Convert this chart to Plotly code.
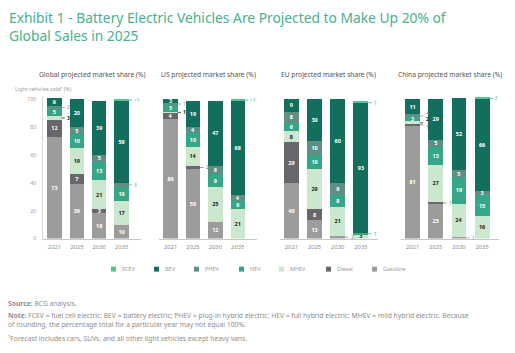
import plotly.graph_objects as go

W, H = 515, 353
FONT = "Noto Sans"

# ---------------- data ----------------
years = ["2021", "2025", "2030", "2035"]
stack_types = ["Gasoline", "Diesel", "MHEV", "HEV", "PHEV", "BEV", "FCEV"]
legend_types = ["FCEV", "BEV", "PHEV", "HEV", "MHEV", "Diesel", "Gasoline"]
region_titles = ["Global projected market share (%)", "US projected market share (%)",
                 "EU projected market share (%)", "China projected market share (%)"]

global_gasoline = [73, 39, 18, 10]
global_diesel = [12, 7, 3, 0]
global_mhev = [3, 19, 21, 17]
global_hev = [5, 10, 13, 10]
global_phev = [2, 5, 5, 3]
global_bev = [6, 20, 39, 59]
global_fcev = [0, 0, 0, 0.5]

us_gasoline = [86, 50, 12, 0]
us_diesel = [4, 2, 0, 0]
us_mhev = [1, 14, 25, 21]
us_hev = [5, 10, 9, 6]
us_phev = [1, 4, 6, 4]
us_bev = [3, 19, 47, 68]
us_fcev = [0, 0, 0, 0.5]

eu_gasoline = [40, 13, 2, 0]
eu_diesel = [29, 8, 0, 0]
eu_mhev = [8, 29, 21, 3]
eu_hev = [6, 10, 8, 1]
eu_phev = [8, 10, 9, 0]
eu_bev = [9, 30, 60, 93]
eu_fcev = [0, 0, 0, 1]

china_gasoline = [81, 25, 1, 0]
china_diesel = [1, 1, 0, 0]
china_mhev = [2, 27, 24, 16]
china_hev = [3, 13, 19, 15]
china_phev = [2, 5, 5, 3]
china_bev = [11, 29, 52, 66]
china_fcev = [0, 0, 0, 1]

# labels drawn outside the bars with a leader line: (region, year, type, text)
outside_labels = [
    (0, "2021", "PHEV", "2"), (0, "2021", "MHEV", "3"),
    (0, "2035", "PHEV", "3"), (0, "2035", "FCEV", "<1"),
    (1, "2021", "PHEV", "1"), (1, "2021", "MHEV", "1"),
    (1, "2025", "Diesel", "2"), (1, "2035", "FCEV", "<1"),
    (2, "2030", "Gasoline", "2"), (2, "2035", "HEV", "1"), (2, "2035", "FCEV", "1"),
    (3, "2021", "PHEV", "2"), (3, "2021", "MHEV", "2"), (3, "2021", "Diesel", "1"),
    (3, "2025", "Diesel", "1"), (3, "2030", "Gasoline", "1"), (3, "2035", "FCEV", "1"),
]

regions = [
    dict(zip(stack_types, [global_gasoline, global_diesel, global_mhev, global_hev, global_phev, global_bev, global_fcev])),
    dict(zip(stack_types, [us_gasoline, us_diesel, us_mhev, us_hev, us_phev, us_bev, us_fcev])),
    dict(zip(stack_types, [eu_gasoline, eu_diesel, eu_mhev, eu_hev, eu_phev, eu_bev, eu_fcev])),
    dict(zip(stack_types, [china_gasoline, china_diesel, china_mhev, china_hev, china_phev, china_bev, china_fcev])),
]

# ---------------- styles ----------------
colors = {
    "FCEV": "#55c48e", "BEV": "#136f5d", "PHEV": "#5f8f82", "HEV": "#35a687",
    "MHEV": "#cbe8cf", "Diesel": "#68686c", "Gasoline": "#9c9c9c",
}
text_colors = {t: "#ffffff" for t in stack_types}
text_colors["MHEV"] = "#222222"
out_colors = {"FCEV": "#3fb186", "HEV": "#3fb186", "PHEV": "#7f9a92", "MHEV": "#222222",
              "Diesel": "#777777", "Gasoline": "#8a8a8a", "BEV": "#136f5d"}
# label offsets in pixels (text only, lines stay at the segment)
label_dy = {(3, "2021", "PHEV"): 3.5, (3, "2021", "MHEV"): 3.4, (3, "2021", "Diesel"): -1.6}

# panel pixel domains
panel_px = [(43.25, 141.25), (159.4, 257.4), (279.8, 377.8), (401.0, 499.0)]
y_bottom_px, y_top_px = 241.0, 96.7   # 0 and 102
YMAX = 102
BARGAP = 0.36
halfw = (1 - BARGAP) / 2

def px_x(p):
    return p / W

def px_y(p):
    return 1 - p / H

fig = go.Figure()
layout_axes = {}
annotations = []
shapes = []

for k, reg in enumerate(regions):
    xa = "x" if k == 0 else f"x{k+1}"
    ya = "y" if k == 0 else f"y{k+1}"
    outs = {(o[1], o[2]) for o in outside_labels if o[0] == k}
    for t in stack_types:
        vals = reg[t]
        texts = []
        for yr, v in zip(years, vals):
            if v >= 3 and (yr, t) not in outs:
                texts.append(f"<b>{v}</b>")
            else:
                texts.append("")
        fig.add_trace(go.Bar(
            x=years, y=vals, name=t, marker=dict(color=colors[t], line=dict(width=0)),
            text=texts, texttemplate="%{text}", textposition="inside",
            insidetextanchor="middle", textangle=0,
            textfont=dict(color=text_colors[t], size=5.5, family=FONT),
            xaxis=xa, yaxis=ya, showlegend=False, hoverinfo="skip",
        ))
    l, r = panel_px[k]
    layout_axes["xaxis" if k == 0 else f"xaxis{k+1}"] = dict(
        domain=[px_x(l), px_x(r)], anchor=ya, type="category",
        categoryorder="array", categoryarray=years,
        showline=True, linecolor="#c9c9c9", linewidth=1, ticks="",
        tickfont=dict(size=5.8, color="#8c8c8c", family=FONT),
        showgrid=False, zeroline=False, fixedrange=True, ticklabelstandoff=2,
    )
    ydict = dict(
        domain=[px_y(y_bottom_px), px_y(y_top_px)], anchor=xa, range=[0, YMAX],
        showgrid=False, zeroline=False, fixedrange=True,
    )
    if k == 0:
        ydict.update(showline=True, linecolor="#d6d6d6", linewidth=1, ticks="",
                     tickvals=[0, 20, 40, 60, 80, 100], showticklabels=True,
                     tickfont=dict(size=5.2, color="#9a9a9a", family=FONT), ticklabelstandoff=5)
    else:
        ydict.update(showline=False, showticklabels=False)
    layout_axes["yaxis" if k == 0 else f"yaxis{k+1}"] = ydict

    annotations.append(dict(
        text=region_titles[k], x=px_x((l + r) / 2), y=px_y(75), xref="paper", yref="paper",
        showarrow=False, xanchor="center", yanchor="middle",
        font=dict(size=6.7, color="#555555", family=FONT)))

# outside labels with leader lines
for (k, yr, t, txt) in outside_labels:
    reg = regions[k]
    i = years.index(yr)
    bottom = sum(reg[s][i] for s in stack_types[:stack_types.index(t)])
    v = reg[t][i]
    mid = bottom + v / 2
    xa = "x" if k == 0 else f"x{k+1}"
    ya = "y" if k == 0 else f"y{k+1}"
    x0 = i + halfw
    shapes.append(dict(type="line", xref=xa, yref=ya, x0=x0, x1=x0 + 3.5 / 24.5,
                       y0=mid, y1=mid, line=dict(color=out_colors[t], width=0.8)))
    annotations.append(dict(
        text=(f"<b>{txt}</b>" if t == "MHEV" else txt), x=x0, y=mid, xref=xa, yref=ya,
        showarrow=False, xanchor="left", yanchor="middle", xshift=4.5,
        yshift=label_dy.get((k, yr, t), 0), borderpad=0,
        font=dict(size=5.0, color=out_colors[t], family=FONT)))

# title
annotations.append(dict(
    text="Exhibit 1 - Battery Electric Vehicles Are Projected to Make Up 20% of<br>Global Sales in 2025",
    x=px_x(7), y=px_y(5), xref="paper", yref="paper", xanchor="left", yanchor="top",
    align="left", showarrow=False, font=dict(size=13.8, color="#47b18f", family=FONT)))

annotations.append(dict(
    text="Light vehicles sold¹ (%)", x=px_x(13), y=px_y(89), xref="paper", yref="paper",
    xanchor="left", yanchor="middle", showarrow=False,
    font=dict(size=5.3, color="#9a9a9a", family=FONT)))

# legend (custom)
legend_x = [111, 154, 194, 239, 279, 326, 372]
for t, lx in zip(legend_types, legend_x):
    shapes.append(dict(type="rect", xref="paper", yref="paper",
                       x0=px_x(lx), x1=px_x(lx + 5), y0=px_y(274.5), y1=px_y(269.5),
                       fillcolor=colors[t], line=dict(width=0)))
    annotations.append(dict(text=t, x=px_x(lx + 8.5), y=px_y(272), xref="paper", yref="paper",
                            xanchor="left", yanchor="middle", showarrow=False,
                            font=dict(size=5.5, color="#9a9a9a", family=FONT)))

# footnotes
foot = [
    ("<b>Source:</b> BCG analysis.", 306.5),
    ("<b>Note:</b> FCEV = fuel cell electric; BEV = battery electric; PHEV = plug-in hybrid electric; HEV = full hybrid electric; MHEV = mild hybrid electric. Because", 319.0),
    ("of rounding, the percentage total for a particular year may not equal 100%.", 328.3),
    ("¹Forecast includes cars, SUVs, and all other light vehicles except heavy vans.", 342.3),
]
for txt, fy in foot:
    annotations.append(dict(text=txt, x=px_x(7), y=px_y(fy), xref="paper", yref="paper",
                            xanchor="left", yanchor="middle", showarrow=False, borderpad=0,
                            font=dict(size=6.75, color="#8e8e8e", family=FONT)))

fig.update_layout(
    width=W, height=H, margin=dict(l=0, r=0, t=0, b=0),
    paper_bgcolor="white", plot_bgcolor="white",
    barmode="stack", bargap=BARGAP, showlegend=False,
    uniformtext=dict(minsize=5.5, mode="show"),
    font=dict(family=FONT),
    annotations=annotations, shapes=shapes,
    **layout_axes,
)

fig.write_html("out.html", config={"displayModeBar": False})
